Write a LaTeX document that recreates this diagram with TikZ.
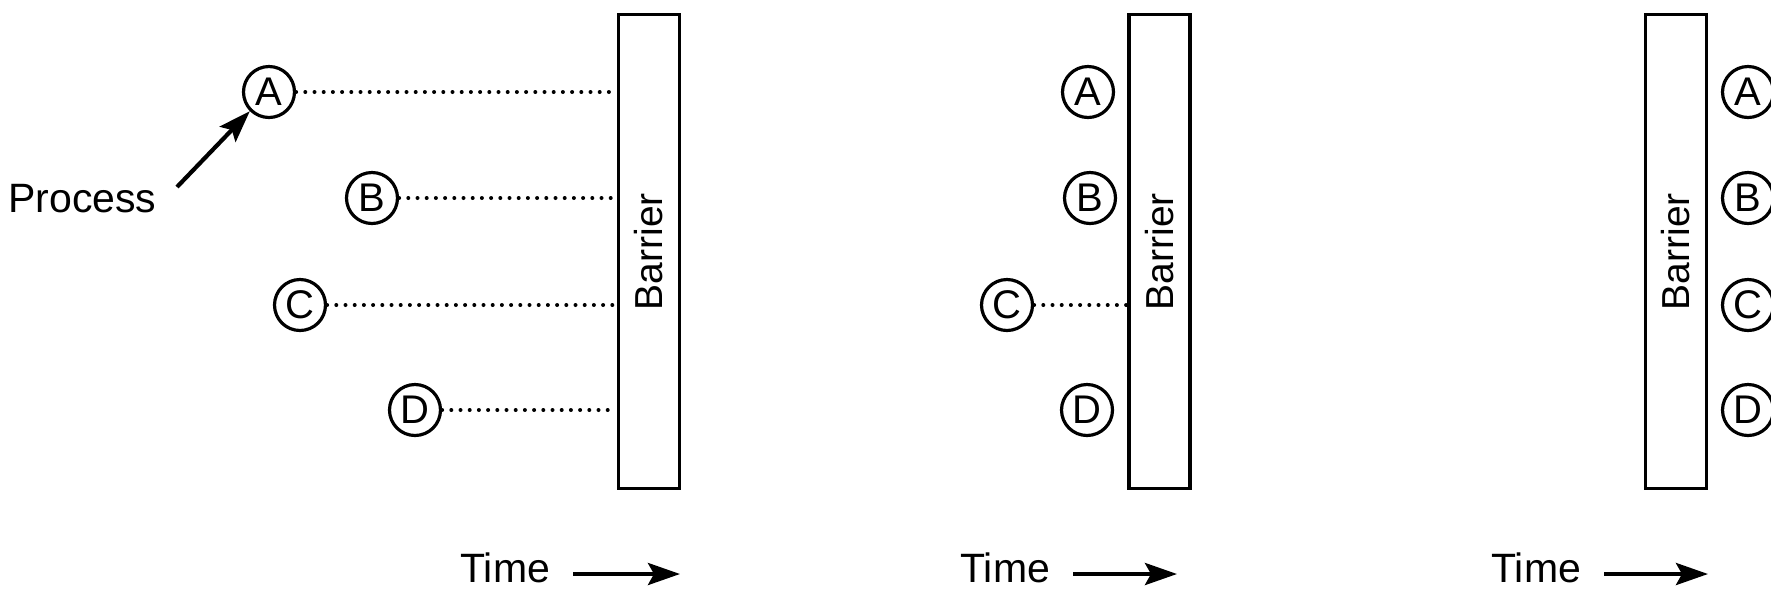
\documentclass[tikz,border=0pt]{standalone}
\usepackage{fontspec}
\setmainfont{Liberation Sans}
\usetikzlibrary{arrows.meta}

\begin{document}
\begin{tikzpicture}[x=0.5pt, y=-0.5pt,
  proc/.style={draw, circle, line width=1.6pt, minimum size=25.5pt, inner sep=0pt,
    font=\fontsize{20}{20}\selectfont},
  barrierbox/.style={draw, rectangle, line width=1.75pt, minimum width=30.5pt,
    minimum height=237pt, inner sep=0pt},
  barlabel/.style={rotate=90, inner sep=0pt, font=\fontsize{19.5}{20}\selectfont},
  txt/.style={inner sep=0pt, anchor=base west, font=\fontsize{20.5}{21}\selectfont},
  waitline/.style={line width=2pt, line cap=round, dash pattern=on 0pt off 4.6pt},
  bigarrow/.style={line width=2.1pt, -{Stealth[length=16pt, width=11pt, inset=3pt]}},
]
\useasboundingbox (0,0) rectangle (1771,591);

% ---------- stage 1: processes approaching the barrier ----------
\node[barrierbox] (bar1) at (649,251.5) {};
\node[barlabel] (bar1lbl) at (bar1.center) {Barrier};

\node[proc] (A1) at (269,92)  {A};
\node[proc] (B1) at (372,198) {B};
\node[proc] (C1) at (300,305) {C};
\node[proc] (D1) at (415,410) {D};

\draw[waitline] (A1.east) -- (A1.east -| bar1.west);
\draw[waitline] (B1.east) -- (B1.east -| bar1.west);
\draw[waitline] (C1.east) -- (C1.east -| bar1.west);
\draw[waitline] (D1.east) -- (D1.east -| bar1.west);

\node[txt] (proclbl) at (8,212) {Process};
\coordinate (ptail) at (177,187);
\draw[bigarrow] (ptail) -- (A1.south west);

\node[txt] (time1) at (460,582) {Time};
\coordinate (t1s) at (573,574);
\coordinate (t1e) at (680,574);
\draw[bigarrow] (t1s) -- (t1e);

% ---------- stage 2: all but C blocked at the barrier ----------
\node[barrierbox] (bar2) at (1159.5,251.5) {};
\node[barlabel] (bar2lbl) at (bar2.center) {Barrier};

\node[proc] (A2) at (1088,92)  {A};
\node[proc] (B2) at (1090,198) {B};
\node[proc] (C2) at (1007,305) {C};
\node[proc] (D2) at (1087,410) {D};

\draw[waitline] (C2.east) -- (C2.east -| bar2.west);

\node[txt] (time2) at (960,582) {Time};
\coordinate (t2s) at (1073,574);
\coordinate (t2e) at (1177,574);
\draw[bigarrow] (t2s) -- (t2e);

% ---------- stage 3: all processes released ----------
\node[barrierbox] (bar3) at (1676,251.5) {};
\node[barlabel] (bar3lbl) at (bar3.center) {Barrier};

\node[proc] (A3) at (1748,92)  {A};
\node[proc] (B3) at (1748,198) {B};
\node[proc] (C3) at (1748,305) {C};
\node[proc] (D3) at (1748,410) {D};

\node[txt] (time3) at (1491,582) {Time};
\coordinate (t3s) at (1604,574);
\coordinate (t3e) at (1708,574);
\draw[bigarrow] (t3s) -- (t3e);
\end{tikzpicture}
\end{document}
